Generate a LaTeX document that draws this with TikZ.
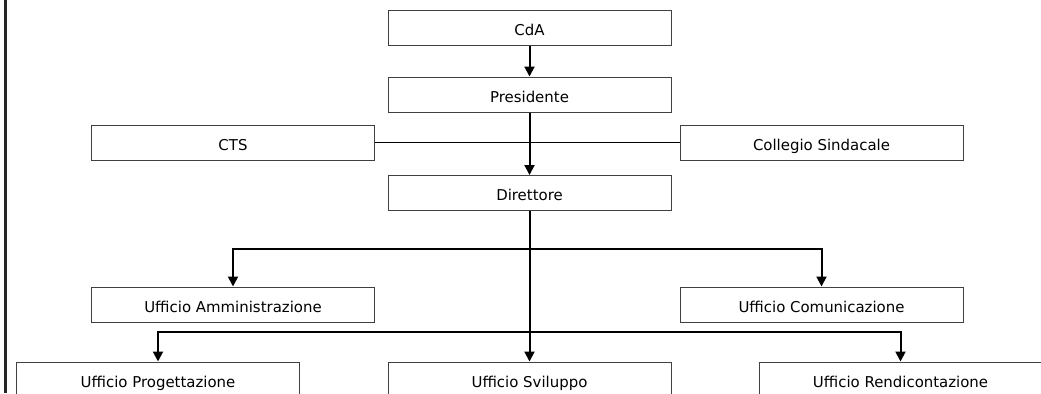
\documentclass[tikz,border=0pt]{standalone}
\usepackage{fontspec}
\setmainfont{DejaVu Sans}
\usetikzlibrary{arrows.meta}
\begin{document}
\begin{tikzpicture}[x=0.75pt,y=-0.75pt,
		ufficio/.style={draw=black!75,line width=0.75pt,inner sep=0pt,text height=13pt,text depth=1.4pt,minimum width=212.25pt,minimum height=26.25pt,font=\fontsize{11.2}{13}\selectfont},
		freccia/.style={line width=1.5pt,-{Triangle[length=7.5pt,width=7.5pt]}}]
	\useasboundingbox (0,0) rectangle (1041,393);
	\clip (0,0) rectangle (1041,393);
	\draw[line width=1.6pt,black!85] (5.5,0) -- (5.5,393);
	% vertice
	\node[ufficio] (cda) at (529.5,27.5) {CdA};
	\node[ufficio] (pres) at (529.5,94.5) {Presidente};
	\node[ufficio] (cts) at (233,142.5) {CTS};
	\node[ufficio] (coll) at (821.5,142.5) {Collegio Sindacale};
	\node[ufficio] (dir) at (529.5,193) {Direttore};
	% uffici
	\node[ufficio] (amm) at (233,304.5) {Ufficio Amministrazione};
	\node[ufficio] (com) at (821.5,304.5) {Ufficio Comunicazione};
	\node[ufficio] (prog) at (158,379.5) {Ufficio Progettazione};
	\node[ufficio] (svil) at (529.5,379.5) {Ufficio Sviluppo};
	\node[ufficio] (rend) at (900.5,379.5) {Ufficio Rendicontazione};
	\coordinate (ramoA) at (529.5,249);
	\coordinate (ramoB) at (529.5,332);
	% collegamenti
	\draw[line width=0.75pt] (cts) -- (coll);
	\draw[freccia] (cda) -- (pres);
	\draw[freccia] (pres) -- (dir);
	\draw[freccia] (dir) -- (svil);
	\draw[freccia] (ramoA) -| (amm);
	\draw[freccia] (ramoA) -| (com);
	\draw[freccia] (ramoB) -| (prog);
	\draw[freccia] (ramoB) -| (rend);
\end{tikzpicture}
\end{document}
